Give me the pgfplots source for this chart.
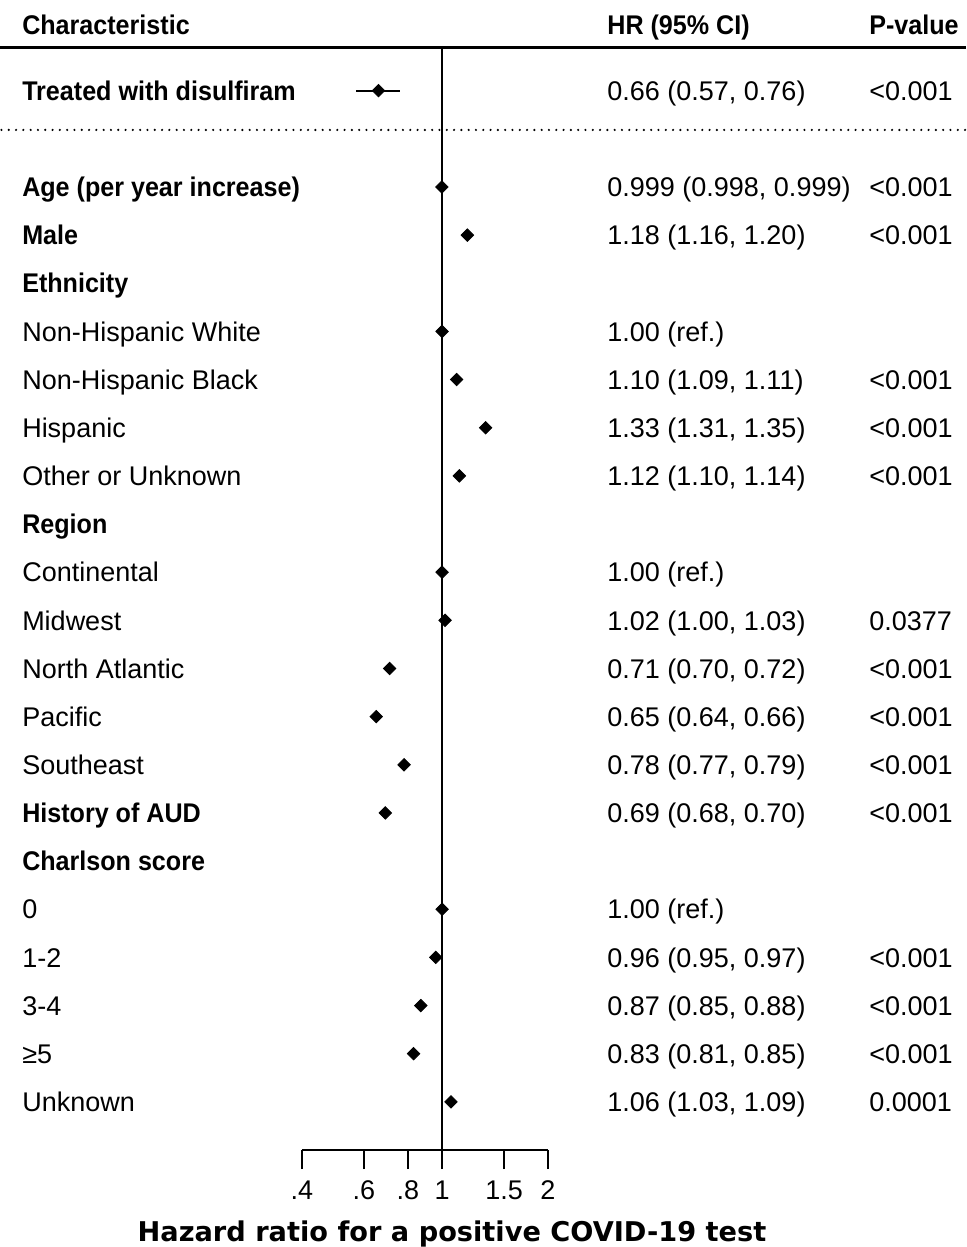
\documentclass[border=0pt]{standalone}
\usepackage{fontspec}
\setmainfont{Liberation Sans}
\newfontfamily\bnarrow{Liberation Sans}[FakeStretch=0.93]
\newfontfamily\dejavu{DejaVu Sans}
\usepackage{pgfplots}
\usepackage{pgfplotstable}
\pgfplotsset{compat=1.18}
\pgfplotstableread{
row hr lo hi
2 0.66 0.57 0.76
0 0.999 0.998 0.999
-1 1.18 1.16 1.20
-3 1.00 1.00 1.00
-4 1.10 1.09 1.11
-5 1.33 1.31 1.35
-6 1.12 1.10 1.14
-8 1.00 1.00 1.00
-9 1.02 1.00 1.03
-10 0.71 0.70 0.72
-11 0.65 0.64 0.66
-12 0.78 0.77 0.79
-13 0.69 0.68 0.70
-15 1.00 1.00 1.00
-16 0.96 0.95 0.97
-17 0.87 0.85 0.88
-18 0.83 0.81 0.85
-19 1.06 1.03 1.09
}\fdata
\tikzset{
  tx/.style={anchor=base west, inner sep=0pt, yshift=-4.85pt, font=\fontsize{13.5}{16}\selectfont},
  bx/.style={anchor=base west, inner sep=0pt, yshift=-4.85pt, font=\bnarrow\bfseries\fontsize{13.5}{16}\selectfont},
}
\begin{document}
\begin{tikzpicture}
\useasboundingbox (-151pt,-48.5pt) rectangle (332pt,575pt);
\begin{axis}[
  scale only axis, width=123pt, height=551pt,
  xmode=log, xmin=0.4, xmax=2, ymin=-20, ymax=2.886,
  axis x line*=bottom, axis y line=none,
  xtick={0.4,0.6,0.8,1,1.5,2}, xticklabels={.4,.6,.8,1,1.5,2},
  minor xtick={},
  tick align=outside, major tick length=9.5pt,
  x axis line style={line width=1.1pt, -},
  every tick/.style={line width=1.1pt, black},
  xticklabel style={font=\fontsize{13.5}{16}\selectfont, yshift=-2.5pt},
  clip=false,
]
\addplot[line width=1.1pt, black] coordinates {(1,2.886) (1,-20)};
\addplot[only marks, mark=square*, mark size=2.2pt, mark options={rotate=45, black}, black,
  error bars/.cd, x dir=both, x explicit, error mark=none,
  error bar style={line width=1pt, black}]
  table[x=hr, y=row, x error plus expr=\thisrow{hi}-\thisrow{hr}, x error minus expr=\thisrow{hr}-\thisrow{lo}] {\fdata};
% rules
\draw[line width=1.5pt] (axis cs:0.0555,2.886) -- (axis cs:30.8,2.886);
\draw[line width=1.2pt, line cap=round, dash pattern=on 0pt off 3.65pt] (axis cs:0.0560,1.184) -- (axis cs:30.8,1.184);
% headers
\node[bx] at (axis cs:0.0640,3.36) {Characteristic};
\node[bx] at (axis cs:2.942,3.36) {HR (95\% CI)};
\node[bx] at (axis cs:16.33,3.36) {P-value};
% labels
\node[bx] at (axis cs:0.0640,2) {Treated with disulfiram};
\node[bx] at (axis cs:0.0640,0) {Age (per year increase)};
\node[bx] at (axis cs:0.0640,-1) {Male};
\node[bx] at (axis cs:0.0640,-2) {Ethnicity};
\node[tx] at (axis cs:0.0640,-3) {Non-Hispanic White};
\node[tx] at (axis cs:0.0640,-4) {Non-Hispanic Black};
\node[tx] at (axis cs:0.0640,-5) {Hispanic};
\node[tx] at (axis cs:0.0640,-6) {Other or Unknown};
\node[bx] at (axis cs:0.0640,-7) {Region};
\node[tx] at (axis cs:0.0640,-8) {Continental};
\node[tx] at (axis cs:0.0640,-9) {Midwest};
\node[tx] at (axis cs:0.0640,-10) {North Atlantic};
\node[tx] at (axis cs:0.0640,-11) {Pacific};
\node[tx] at (axis cs:0.0640,-12) {Southeast};
\node[bx] at (axis cs:0.0640,-13) {History of AUD};
\node[bx] at (axis cs:0.0640,-14) {Charlson score};
\node[tx] at (axis cs:0.0640,-15) {0};
\node[tx] at (axis cs:0.0640,-16) {1-2};
\node[tx] at (axis cs:0.0640,-17) {3-4};
\node[tx] at (axis cs:0.0640,-18) {≥5};
\node[tx] at (axis cs:0.0640,-19) {Unknown};
% HR
\node[tx] at (axis cs:2.942,2) {0.66 (0.57, 0.76)};
\node[tx] at (axis cs:2.942,0) {0.999 (0.998, 0.999)};
\node[tx] at (axis cs:2.942,-1) {1.18 (1.16, 1.20)};
\node[tx] at (axis cs:2.942,-3) {1.00 (ref.)};
\node[tx] at (axis cs:2.942,-4) {1.10 (1.09, 1.11)};
\node[tx] at (axis cs:2.942,-5) {1.33 (1.31, 1.35)};
\node[tx] at (axis cs:2.942,-6) {1.12 (1.10, 1.14)};
\node[tx] at (axis cs:2.942,-8) {1.00 (ref.)};
\node[tx] at (axis cs:2.942,-9) {1.02 (1.00, 1.03)};
\node[tx] at (axis cs:2.942,-10) {0.71 (0.70, 0.72)};
\node[tx] at (axis cs:2.942,-11) {0.65 (0.64, 0.66)};
\node[tx] at (axis cs:2.942,-12) {0.78 (0.77, 0.79)};
\node[tx] at (axis cs:2.942,-13) {0.69 (0.68, 0.70)};
\node[tx] at (axis cs:2.942,-15) {1.00 (ref.)};
\node[tx] at (axis cs:2.942,-16) {0.96 (0.95, 0.97)};
\node[tx] at (axis cs:2.942,-17) {0.87 (0.85, 0.88)};
\node[tx] at (axis cs:2.942,-18) {0.83 (0.81, 0.85)};
\node[tx] at (axis cs:2.942,-19) {1.06 (1.03, 1.09)};
% P
\node[tx] at (axis cs:16.33,2) {<0.001};
\node[tx] at (axis cs:16.33,0) {<0.001};
\node[tx] at (axis cs:16.33,-1) {<0.001};
\node[tx] at (axis cs:16.33,-4) {<0.001};
\node[tx] at (axis cs:16.33,-5) {<0.001};
\node[tx] at (axis cs:16.33,-6) {<0.001};
\node[tx] at (axis cs:16.33,-9) {0.0377};
\node[tx] at (axis cs:16.33,-10) {<0.001};
\node[tx] at (axis cs:16.33,-11) {<0.001};
\node[tx] at (axis cs:16.33,-12) {<0.001};
\node[tx] at (axis cs:16.33,-13) {<0.001};
\node[tx] at (axis cs:16.33,-16) {<0.001};
\node[tx] at (axis cs:16.33,-17) {<0.001};
\node[tx] at (axis cs:16.33,-18) {<0.001};
\node[tx] at (axis cs:16.33,-19) {0.0001};
% axis title
\node[anchor=base, inner sep=0pt, yshift=-4.9pt, font=\dejavu\bfseries\fontsize{13.6}{16}\selectfont] at (axis cs:1.067,-21.70) {Hazard ratio for a positive COVID-19 test};
\end{axis}
\end{tikzpicture}
\end{document}
